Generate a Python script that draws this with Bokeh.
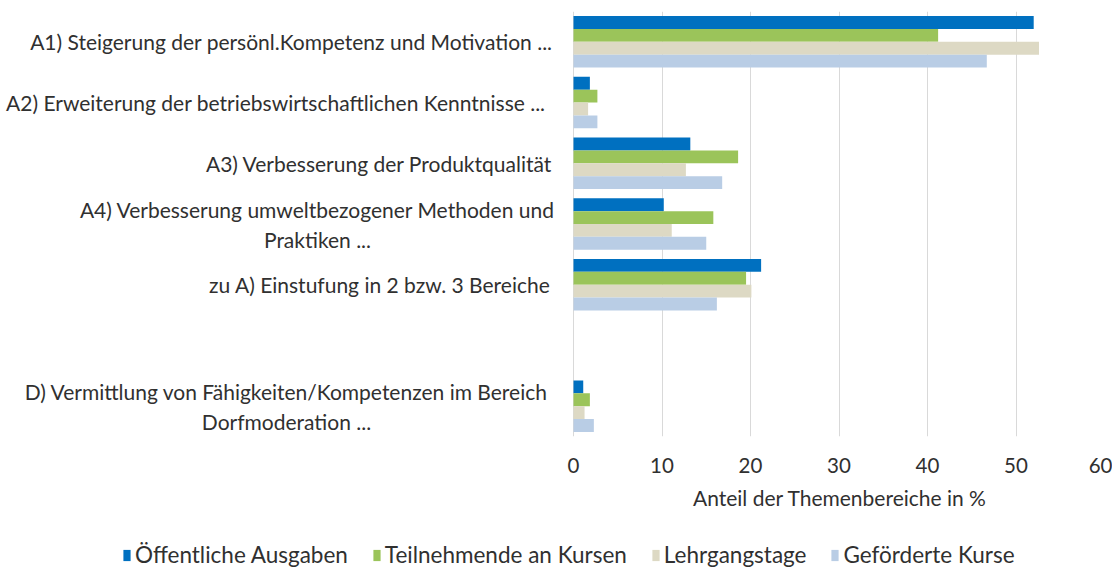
from bokeh.plotting import figure
from bokeh.models import Range1d, Legend, LegendItem, FixedTicker, Title, ColumnDataSource
from bokeh.layouts import column
from bokeh.embed import file_html
from bokeh.resources import INLINE

categories = [
    "A1) Steigerung der persönl.Kompetenz und Motivation ...",
    "A2) Erweiterung der betriebswirtschaftlichen Kenntnisse ...",
    "A3) Verbesserung der Produktqualität",
    "A4) Verbesserung umweltbezogener Methoden und\nPraktiken ...",
    "zu A) Einstufung in 2 bzw. 3 Bereiche",
    "",
    "D) Vermittlung von Fähigkeiten/Kompetenzen im Bereich\nDorfmoderation ...",
]
series_names = ["Öffentliche Ausgaben", "Teilnehmende an Kursen", "Lehrgangstage", "Geförderte Kurse"]
nan = float("nan")
oeffentliche_ausgaben = [52.0, 1.85, 13.2, 10.2, 21.2, nan, 1.1]
teilnehmende = [41.2, 2.7, 18.6, 15.8, 19.5, nan, 1.85]
lehrgangstage = [52.6, 1.65, 12.7, 11.1, 20.1, nan, 1.25]
gefoerderte_kurse = [46.7, 2.7, 16.8, 15.0, 16.2, nan, 2.3]
x_ticks = [0, 10, 20, 30, 40, 50, 60]
x_title = "Anteil der Themenbereiche in %"

colors = ["#0070C0", "#9BC45A", "#DDD9C4", "#B9CDE5"]
FONT = "Lato"
TXT = "#303030"
FS = "21px"

W = 1112
AXIS_LEFT_PX = 573          # where value 0 sits on the page
FRAME_RIGHT = 8
frame_w = W - FRAME_RIGHT
x_max = 60
x_min = -x_max * AXIS_LEFT_PX / (frame_w - AXIS_LEFT_PX)

p = figure(width=W, height=516, output_backend="svg", toolbar_location=None,
           x_range=Range1d(x_min, x_max), y_range=Range1d(len(categories), 0),
           min_border_left=0, min_border_right=FRAME_RIGHT, min_border_top=11, min_border_bottom=80)
p.outline_line_color = None

values = [oeffentliche_ausgaben, teilnehmende, lehrgangstage, gefoerderte_kurse]
bar_h = 0.212
offsets = [-1.5 * bar_h, -0.5 * bar_h, 0.5 * bar_h, 1.5 * bar_h]
for vals, off, col in zip(values, offsets, colors):
    ys = [i + 0.5 + off for i in range(len(categories))]
    p.hbar(y=ys, right=vals, left=0, height=bar_h, fill_color=col, line_color=None)

p.xaxis.ticker = FixedTicker(ticks=x_ticks)
p.xaxis.axis_line_color = None
p.xaxis.major_tick_line_color = None
p.xaxis.minor_tick_line_color = None
p.xaxis.major_label_text_font = FONT
p.xaxis.major_label_text_font_size = "20.5px"
p.xaxis.major_label_text_color = TXT
p.xaxis.major_label_standoff = 15
p.yaxis.visible = False
p.xgrid.grid_line_color = "#D9D9D9"
p.ygrid.grid_line_color = None

# category labels, anchored at value 0 with pixel offsets
single = dict(x=[], y=[], text=[], xo=[])
multi = dict(x=[], y=[], text=[], xo=[])
label_right_px = {0: -21, 1: -28, 2: -21, 4: -23}
multi_center_px = {3: 317 - AXIS_LEFT_PX, 6: 286 - AXIS_LEFT_PX}
for i, cat in enumerate(categories):
    if not cat:
        continue
    if "\n" in cat:
        multi["x"].append(0); multi["y"].append(i + 0.5); multi["text"].append(cat)
        multi["xo"].append(multi_center_px[i])
    else:
        single["x"].append(0); single["y"].append(i + 0.5); single["text"].append(cat)
        single["xo"].append(label_right_px[i])
p.text(x="x", y="y", text="text", source=ColumnDataSource(single), x_offset="xo",
       text_align="right", text_baseline="middle", text_font={"value": FONT},
       text_font_size=FS, text_color=TXT)
p.text(x="x", y="y", text="text", source=ColumnDataSource(multi), x_offset="xo",
       text_align="center", text_baseline="middle", text_font={"value": FONT},
       text_font_size=FS, text_color=TXT, text_line_height=1.2)

# axis title centred under the value range
value_center = (AXIS_LEFT_PX + frame_w) / 2
p.add_layout(Title(text=x_title, align="left", offset=value_center - 146,
                   text_font=FONT, text_font_size="21px", text_font_style="normal",
                   text_color=TXT, standoff=14), "below")

# legend strip
lg = figure(width=W, height=52, output_backend="svg", toolbar_location=None,
            x_range=Range1d(0, 1), y_range=Range1d(0, 1),
            min_border_left=0, min_border_right=FRAME_RIGHT, min_border_top=0, min_border_bottom=0)
lg.axis.visible = False
lg.grid.visible = False
lg.outline_line_color = None
leg_renderers = [lg.hbar(y=[nan], right=[nan], height=1, fill_color=c, line_color=None) for c in colors]
legend = Legend(items=[LegendItem(label=n, renderers=[r]) for n, r in zip(series_names, leg_renderers)],
                orientation="horizontal", location=(122, 0),
                label_text_font=FONT, label_text_font_size="22.5px", label_text_color=TXT,
                glyph_width=9, glyph_height=14, label_standoff=4, spacing=24, padding=0, margin=0,
                border_line_color=None, background_fill_alpha=0)
lg.add_layout(legend, "center")

open("out.html", "w").write(file_html(column(p, lg, spacing=0), INLINE))
